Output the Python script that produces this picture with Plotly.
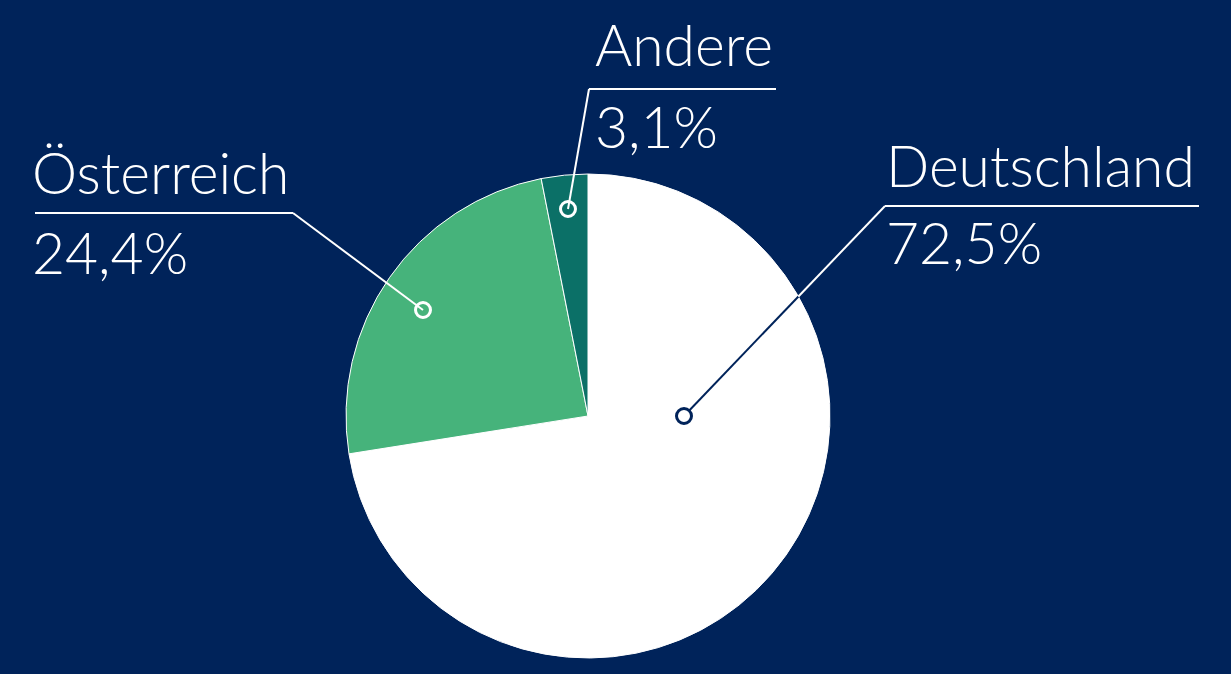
import math
import plotly.graph_objects as go

# data
labels = ["Deutschland", "Österreich", "Andere"]
values = [72.5, 24.4, 3.1]
colors = ["#ffffff", "#46b37b", "#0b7067"]

W, H = 1231, 674
BG = "#00235a"
CX, CY, R = 588, 416, 242          # pie centre / radius in pixels
FONT = "Lato"
FS = 57


def fx(x):
    return x / W


def fy(y):
    return 1 - y / H


# callout layout in pixels: dot, elbow, line end, text x, name baseline, pct cap-top
callouts = {
    "Deutschland": dict(dot=(684, 416), elbow=(885, 206), end=1199, tx=884, base=188, top=222,
                        ring=BG, fill="#ffffff"),
    "Österreich": dict(dot=(423, 310), elbow=(293, 213), end=35, tx=30, base=195, top=232,
                       ring="#ffffff", fill="rgba(0,0,0,0)"),
    "Andere": dict(dot=(568, 209), elbow=(589, 89), end=776, tx=593, base=67, top=106,
                   ring="#ffffff", fill="rgba(0,0,0,0)"),
}

fig = go.Figure()
fig.add_trace(go.Pie(
    labels=labels, values=values, sort=False, direction="clockwise", rotation=0,
    marker=dict(colors=colors, line=dict(color="#ffffff", width=1)),
    textinfo="none", hoverinfo="label+percent", showlegend=False,
    domain=dict(x=[fx(CX - R), fx(CX + R)], y=[fy(CY + R), fy(CY - R)]),
))

shapes = []
annotations = []
for lab, v in zip(labels, values):
    c = callouts[lab]
    dx, dy = c["dot"]
    ex, ey = c["elbow"]
    # split the leader where it crosses the pie edge (dark inside white slice)
    if c["ring"] == BG:
        ux, uy = ex - dx, ey - dy
        a = ux * ux + uy * uy
        b = 2 * (ux * (dx - CX) + uy * (dy - CY))
        cc = (dx - CX) ** 2 + (dy - CY) ** 2 - R * R
        t = (-b + math.sqrt(b * b - 4 * a * cc)) / (2 * a)
        mx, my = dx + t * ux, dy + t * uy
        shapes.append(dict(type="line", xref="paper", yref="paper", x0=fx(dx), y0=fy(dy),
                           x1=fx(mx), y1=fy(my), line=dict(color=BG, width=2)))
        shapes.append(dict(type="line", xref="paper", yref="paper", x0=fx(mx), y0=fy(my),
                           x1=fx(ex), y1=fy(ey), line=dict(color="#ffffff", width=2)))
    else:
        shapes.append(dict(type="line", xref="paper", yref="paper", x0=fx(dx), y0=fy(dy),
                           x1=fx(ex), y1=fy(ey), line=dict(color="#ffffff", width=2)))
    shapes.append(dict(type="line", xref="paper", yref="paper", x0=fx(ex), y0=fy(ey),
                       x1=fx(c["end"]), y1=fy(ey), line=dict(color="#ffffff", width=2)))
    rr = 7.5
    shapes.append(dict(type="circle", xref="paper", yref="paper",
                       x0=fx(dx - rr), x1=fx(dx + rr), y0=fy(dy + rr), y1=fy(dy - rr),
                       fillcolor=c["fill"], line=dict(color=c["ring"], width=3)))

    pct = f"{v:.1f}".replace(".", ",") + "%"
    annotations.append(dict(text=lab, xref="paper", yref="paper", x=fx(c["tx"]),
                            y=fy(c["base"] + 0.213 * FS + 1), xanchor="left", yanchor="bottom",
                            showarrow=False,
                            font=dict(family=FONT, size=FS, color="#ffffff", weight=300)))
    annotations.append(dict(text=pct, xref="paper", yref="paper", x=fx(c["tx"]),
                            y=fy(c["top"] - 0.27 * FS - 1), xanchor="left", yanchor="top",
                            showarrow=False,
                            font=dict(family=FONT, size=FS, color="#ffffff", weight=300)))

fig.update_layout(
    width=W, height=H, margin=dict(l=0, r=0, t=0, b=0),
    paper_bgcolor=BG, plot_bgcolor=BG,
    shapes=shapes, annotations=annotations,
)

# drop the page's default body margin so the figure fills the window
fig.write_html("out.html", config={"displayModeBar": False},
               post_script="document.body.style.margin='0';")
